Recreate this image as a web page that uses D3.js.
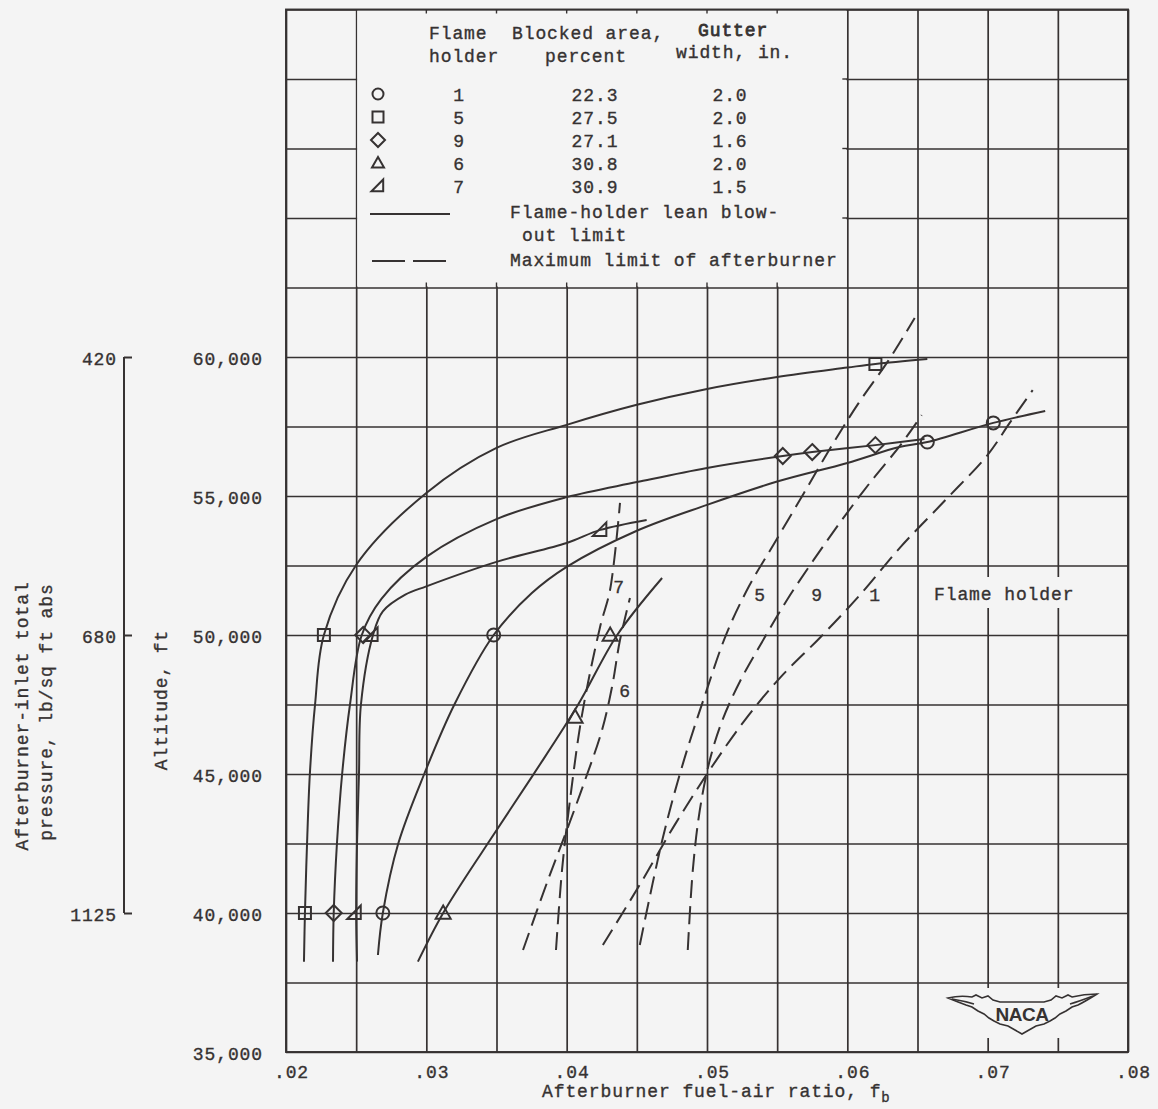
<!DOCTYPE html>
<html>
<head>
<meta charset="utf-8">
<script src="https://cdn.jsdelivr.net/npm/d3@7"></script>
<style>
  html, body { margin: 0; padding: 0; background: #f4f4f4; }
  svg { display: block; }
  text { font-family: "Liberation Mono", "DejaVu Sans Mono", monospace; font-size: 18px; fill: #363232; stroke: #363232; stroke-width: 0.35px; letter-spacing: 0.9px; }
</style>
</head>
<body>
<svg id="chart" width="1158" height="1109"></svg>
<script>
// ---- axis ticks ----
const xTicks = [0.02, 0.03, 0.04, 0.05, 0.06, 0.07, 0.08];
const xTickLabels = [".02", ".03", ".04", ".05", ".06", ".07", ".08"];
const yTicks = [35000, 40000, 45000, 50000, 55000, 60000];
const yTickLabels = ["35,000", "40,000", "45,000", "50,000", "55,000", "60,000"];
const xGrid = [0.02, 0.025, 0.03, 0.035, 0.04, 0.045, 0.05, 0.055, 0.06, 0.065, 0.07, 0.075, 0.08];
const yGrid = [35000, 37500, 40000, 42500, 45000, 47500, 50000, 52500, 55000, 57500, 60000, 62500, 65000, 67500, 70000, 72500];
// afterburner-inlet total pressure, lb/sq ft abs, at the matching altitudes
const pressureAlt = [60000, 50000, 40000];
const pressureLabels = ["420", "680", "1125"];

// ---- legend table ----
const holders = ["1", "5", "9", "6", "7"];
const blockedArea = ["22.3", "27.5", "27.1", "30.8", "30.9"];
const gutterWidth = ["2.0", "2.0", "1.6", "2.0", "1.5"];
const holderSymbols = ["circle", "square", "diamond", "triangle", "halftri"];

// ---- test points [fuel-air ratio, altitude ft] ----
const points1 = [[0.0269, 40000], [0.0348, 50000], [0.0657, 56940], [0.0704, 57630]];
const points5 = [[0.02135, 40000], [0.0227, 50000], [0.0620, 59750]];
const points9 = [[0.0234, 40000], [0.0255, 50000], [0.0554, 56440], [0.0575, 56580], [0.0620, 56830]];
const points6 = [[0.0312, 40000], [0.0406, 47050], [0.0431, 50000]];
const points7 = [[0.0249, 40000], [0.0261, 50000], [0.0424, 53780]];

// ---- flame-holder lean blowout limits ----
const blowout1 = [[0.02655, 38490], [0.0269, 40000], [0.0280, 42500], [0.02985, 45000], [0.0320, 47500], [0.0348, 50000],
  [0.0375, 51500], [0.0400, 52450], [0.0450, 53750], [0.0500, 54680], [0.0550, 55520], [0.0600, 56190], [0.0637, 56760], [0.0657, 56940], [0.0704, 57630], [0.0741, 58060]];
const blowout5 = [[0.02128, 38250], [0.02135, 40000], [0.0215, 42500], [0.0217, 45000], [0.02207, 47500], [0.0227, 50000],
  [0.0250, 52520], [0.0300, 55110], [0.0350, 56730], [0.0400, 57560], [0.0450, 58280], [0.0500, 58850], [0.0550, 59280], [0.0600, 59620], [0.0620, 59750], [0.0657, 59930]];
const blowout9 = [[0.02335, 38250], [0.0234, 40000], [0.02363, 42500], [0.0240, 45000], [0.02456, 47500], [0.0254, 50000],
  [0.0268, 51300], [0.0300, 52810], [0.0350, 54170], [0.0400, 54960], [0.0450, 55500], [0.0500, 56010], [0.0554, 56440], [0.0575, 56580], [0.0620, 56830], [0.0655, 57050]];
const blowout6 = [[0.0294, 38250], [0.0312, 40000], [0.0344, 42520], [0.0376, 44960], [0.0408, 47480], [0.0436, 50000], [0.0468, 52050]];
const blowout7 = [[0.02506, 38250], [0.0250, 40000], [0.02506, 42500], [0.0252, 45000], [0.02534, 47500], [0.0262, 50000],
  [0.0269, 50850], [0.0285, 51450], [0.0300, 51750], [0.0350, 52630], [0.0400, 53310], [0.0424, 53780], [0.0457, 54140]];

// ---- maximum limit of afterburner ----
const maxLimit7 = [[0.03924, 38670], [0.03967, 41550], [0.04024, 44070], [0.04109, 47120], [0.04238, 50290], [0.04309, 51620], [0.0438, 54750]];
const maxLimit6 = [[0.03689, 38670], [0.03867, 41190], [0.04002, 42990], [0.04131, 44780], [0.04252, 46580], [0.04323, 48130], [0.0438, 49820], [0.04451, 51330]];
const maxLimit5 = [[0.04521, 38850], [0.04685, 42700], [0.0483, 45400], [0.0499, 47900], [0.0514, 50060], [0.0530, 51760], [0.0548, 53300],
  [0.0569, 55100], [0.0590, 56900], [0.0608, 58340], [0.0629, 59850], [0.0648, 61400]];
const maxLimit9 = [[0.04863, 38670], [0.04899, 41550], [0.04949, 43710], [0.0502, 45500], [0.0511, 46940], [0.0524, 48380], [0.0538, 49640],
  [0.0557, 51260], [0.0576, 52700], [0.0595, 54060], [0.0616, 55470], [0.0638, 56840], [0.0653, 57910]];
const maxLimit1 = [[0.04258, 38850], [0.0452, 41010], [0.0477, 43170], [0.0502, 45150], [0.0527, 46940], [0.0552, 48460], [0.0581, 49930],
  [0.0609, 51440], [0.0638, 53170], [0.0670, 54860], [0.0700, 56480], [0.07157, 57630], [0.07321, 58810]];

// curve labels: [text, fuel-air ratio, altitude of baseline]
const maxLimitLabels = [["7", 0.04373, 51510], ["6", 0.04416, 47770], ["5", 0.05378, 51220], ["9", 0.05784, 51220], ["1", 0.06197, 51220]];

const ink = "#363232";
const paper = "#f4f4f4";

const svg = d3.select("#chart");
const x = d3.scaleLinear().domain([0.02, 0.08]).range([286, 1128]);
const y = d3.scaleLinear().domain([35000, 72500]).range([1052, 9.5]);
const plotH = y(35000) - y(72500);

// grid
svg.append("g")
  .attr("transform", `translate(0,${y(35000)})`)
  .call(d3.axisBottom(x).tickValues(xGrid).tickSize(-plotH).tickFormat(""))
  .call(g => g.select(".domain").remove())
  .call(g => g.selectAll("line").attr("stroke", ink).attr("stroke-width", 1.7));
svg.append("g")
  .attr("transform", `translate(${x(0.02)},0)`)
  .call(d3.axisLeft(y).tickValues(yGrid).tickSize(-(x(0.08) - x(0.02))).tickFormat(""))
  .call(g => g.select(".domain").remove())
  .call(g => g.selectAll("line").attr("stroke", ink).attr("stroke-width", 1.7));

// legend panel cut out of the grid
const lx0 = x(0.025), lx1 = x(0.06), ly0 = y(72500), ly1 = y(62500);
svg.append("rect").attr("x", lx0 + 1).attr("y", ly0 + 1).attr("width", lx1 - lx0 - 2).attr("height", ly1 - ly0 - 2).attr("fill", paper);
const stubs = svg.append("g").attr("stroke", ink).attr("stroke-width", 1.4);
[0.03, 0.035, 0.04, 0.045, 0.05, 0.055].forEach(v => {
  stubs.append("line").attr("x1", x(v)).attr("x2", x(v)).attr("y1", ly0).attr("y2", ly0 + 4);
  stubs.append("line").attr("x1", x(v)).attr("x2", x(v)).attr("y1", ly1 - 5).attr("y2", ly1);
});
[70000, 67500, 65000].forEach(v => {
  stubs.append("line").attr("x1", lx1 - 5).attr("x2", lx1).attr("y1", y(v)).attr("y2", y(v));
});

// clear spaces behind the "Flame holder" note and the NACA emblem
svg.append("rect").attr("x", 930).attr("y", 577).attr("width", 150).attr("height", 31).attr("fill", paper);
svg.append("rect").attr("x", 944).attr("y", 988).attr("width", 158).attr("height", 50).attr("fill", paper);

// plot frame
svg.append("rect").attr("x", x(0.02)).attr("y", y(72500)).attr("width", x(0.08) - x(0.02)).attr("height", plotH)
  .attr("fill", "none").attr("stroke", ink).attr("stroke-width", 1.9);

// curves
const line = d3.line().x(d => x(d[0])).y(d => y(d[1])).curve(d3.curveCatmullRom.alpha(0.5));
const curves = svg.append("g").attr("fill", "none").attr("stroke", ink).attr("stroke-width", 2);
[blowout1, blowout5, blowout9, blowout6, blowout7].forEach(c => curves.append("path").attr("d", line(c)));
const dashes = svg.append("g").attr("fill", "none").attr("stroke", ink).attr("stroke-width", 2).attr("stroke-dasharray", "18,8");
[maxLimit7, maxLimit6, maxLimit5, maxLimit9, maxLimit1].forEach(c => dashes.append("path").attr("d", line(c)));

// marker shapes
function marker(type, s) {
  const h = s / 2;
  switch (type) {
    case "circle": return `M${-h},0a${h},${h} 0 1,0 ${s},0a${h},${h} 0 1,0 ${-s},0Z`;
    case "square": return `M${-h},${-h}h${s}v${s}h${-s}Z`;
    case "diamond": return `M0,${-h}L${h},0L0,${h}L${-h},0Z`;
    case "triangle": return `M0,${-h}L${h},${h * 0.75}L${-h},${h * 0.75}Z`;
    case "halftri": return `M${h * 0.8},${-h}L${h * 0.8},${h * 0.8}L${-h},${h * 0.8}Z`;
  }
}
const markerSize = { circle: 13, square: 12, diamond: 16, triangle: 15, halftri: 15 };
const sets = [[points1, "circle"], [points5, "square"], [points9, "diamond"], [points6, "triangle"], [points7, "halftri"]];
const mk = svg.append("g").attr("fill", "none").attr("stroke", ink).attr("stroke-width", 2);
sets.forEach(([pts, type]) => {
  mk.selectAll(null).data(pts).enter().append("path")
    .attr("transform", d => `translate(${x(d[0])},${y(d[1])})`)
    .attr("d", marker(type, markerSize[type]));
});

// curve labels
svg.append("g").selectAll("text").data(maxLimitLabels).enter().append("text")
  .attr("x", d => x(d[1])).attr("y", d => y(d[2])).attr("text-anchor", "middle").text(d => d[0]);
svg.append("text").attr("x", 934).attr("y", 600).text("Flame holder");

// altitude axis labels
svg.append("g")
  .attr("transform", "translate(263,0)")
  .call(d3.axisLeft(y).tickValues(yTicks).tickFormat((d, i) => yTickLabels[i]).tickSize(0).tickPadding(0))
  .call(g => g.select(".domain").remove())
  .call(g => g.selectAll("text").attr("dy", 7));
svg.append("text").attr("transform", "translate(167,700) rotate(-90)").attr("text-anchor", "middle").text("Altitude, ft");

// fuel-air ratio axis labels
svg.append("g")
  .attr("transform", `translate(5,1078)`)
  .call(d3.axisBottom(x).tickValues(xTicks).tickFormat((d, i) => xTickLabels[i]).tickSize(0).tickPadding(0))
  .call(g => g.select(".domain").remove())
  .call(g => g.selectAll("text").attr("dy", 0));
const xt = svg.append("text").attr("x", 542).attr("y", 1097).text("Afterburner fuel-air ratio, f");
xt.append("tspan").attr("dy", 5).style("font-size", "14px").text("b");

// pressure scale
const pg = svg.append("g").attr("transform", "translate(124,0)");
pg.append("line").attr("x1", 0).attr("x2", 0).attr("y1", y(60000)).attr("y2", y(40000)).attr("stroke", ink).attr("stroke-width", 2);
pg.call(d3.axisRight(y).tickValues(pressureAlt).tickFormat((d, i) => pressureLabels[i]).tickSize(8).tickPadding(0))
  .call(g => g.select(".domain").remove())
  .call(g => g.selectAll("line").attr("stroke", ink).attr("stroke-width", 2))
  .call(g => g.selectAll("text").attr("x", -7).attr("dy", 7).attr("text-anchor", "end"));
svg.append("text").attr("transform", "translate(28,716) rotate(-90)").attr("text-anchor", "middle").text("Afterburner-inlet total");
svg.append("text").attr("transform", "translate(52,712) rotate(-90)").attr("text-anchor", "middle").text("pressure, lb/sq ft abs");

// legend
const lg = svg.append("g");
lg.append("text").attr("x", 429).attr("y", 39).text("Flame");
lg.append("text").attr("x", 429).attr("y", 62).text("holder");
lg.append("text").attr("x", 512).attr("y", 39).text("Blocked area,");
lg.append("text").attr("x", 545).attr("y", 62).text("percent");
lg.append("text").attr("x", 698).attr("y", 36).style("stroke-width", "0.8px").text("Gutter");
lg.append("text").attr("x", 676).attr("y", 58).text("width, in.");
const rowY = [101, 124, 147, 170, 193];
const legendSize = { circle: 11, square: 11, diamond: 14, triangle: 12, halftri: 13 };
holders.forEach((h, i) => {
  lg.append("path").attr("transform", `translate(378,${rowY[i] - 7})`)
    .attr("d", marker(holderSymbols[i], legendSize[holderSymbols[i]]))
    .attr("fill", "none").attr("stroke", ink).attr("stroke-width", 2);
  lg.append("text").attr("x", 459).attr("y", rowY[i]).attr("text-anchor", "middle").text(h);
  lg.append("text").attr("x", 595).attr("y", rowY[i]).attr("text-anchor", "middle").text(blockedArea[i]);
  lg.append("text").attr("x", 730).attr("y", rowY[i]).attr("text-anchor", "middle").text(gutterWidth[i]);
});
lg.append("line").attr("x1", 370).attr("x2", 450).attr("y1", 214).attr("y2", 214).attr("stroke", ink).attr("stroke-width", 2);
lg.append("text").attr("x", 510).attr("y", 218).text("Flame-holder lean blow-");
lg.append("text").attr("x", 522).attr("y", 241).text("out limit");
lg.append("line").attr("x1", 372).attr("x2", 450).attr("y1", 261).attr("y2", 261).attr("stroke", ink).attr("stroke-width", 2).attr("stroke-dasharray", "33,8");
lg.append("text").attr("x", 510).attr("y", 266).text("Maximum limit of afterburner");

// NACA emblem
const em = svg.append("g").attr("transform", "translate(1022,1013)").attr("fill", "none").attr("stroke", ink).attr("stroke-width", 1.6);
em.append("path").attr("d",
  "M-74,-15 Q-62,-18 -50,-16 L-46,-18 L-40,-15 L-34,-17 L-29,-13 L-22,-11 L22,-11 L29,-13 L34,-17 L40,-15 L46,-18 L50,-16 Q62,-19 75,-19 " +
  "Q64,-12 56,-8 L50,-6 L44,-2 L38,1 L33,5 L28,8 L22,11 L14,13 L7,17 L0,21 L-7,17 L-14,13 L-22,11 L-28,8 L-33,5 L-38,1 L-44,-2 L-50,-6 L-56,-8 Q-64,-11 -74,-15 Z");
em.append("path").attr("d", "M-70,-14 Q-58,-12 -48,-9 M71,-17 Q58,-12 48,-9");
em.append("text").attr("x", 0).attr("y", 8).attr("text-anchor", "middle")
  .style("font-family", "'Liberation Sans', Arial, sans-serif").style("font-weight", "bold").style("font-size", "19px").style("letter-spacing", "-0.5px")
  .style("stroke", "none").text("NACA");
</script>
</body>
</html>
